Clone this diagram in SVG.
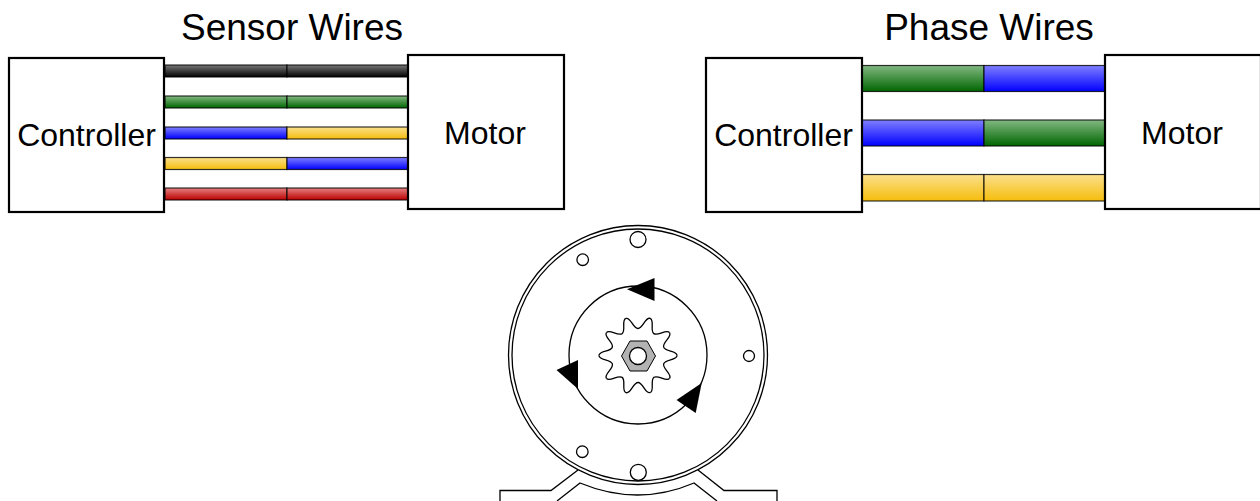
<svg xmlns="http://www.w3.org/2000/svg" width="1260" height="501" viewBox="0 0 1260 501">
<style>
text{font-family:"Liberation Sans",Arial,sans-serif;fill:#000;text-anchor:middle}
.t{font-size:37px}.l{font-size:32px}
.box{fill:#fff;stroke:#000;stroke-width:2.2}
.w{stroke:#000;stroke-width:1.2;stroke-opacity:.8}
.s{fill:none;stroke:#000;stroke-width:1.3}
.c{fill:#fff;stroke:#000;stroke-width:1.3}
.a{fill:#000;stroke:none}
</style>
<defs>
<linearGradient id="k" x1="0" y1="0" x2="0" y2="1"><stop offset="0" stop-color="#777"/><stop offset="1" stop-color="#000"/></linearGradient>
<linearGradient id="g" x1="0" y1="0" x2="0" y2="1"><stop offset="0" stop-color="#82b882"/><stop offset="1" stop-color="#006600"/></linearGradient>
<linearGradient id="b" x1="0" y1="0" x2="0" y2="1"><stop offset="0" stop-color="#7f7fff"/><stop offset="1" stop-color="#0000ff"/></linearGradient>
<linearGradient id="y" x1="0" y1="0" x2="0" y2="1"><stop offset="0" stop-color="#fbe08c"/><stop offset="1" stop-color="#f5bd0c"/></linearGradient>
<linearGradient id="r" x1="0" y1="0" x2="0" y2="1"><stop offset="0" stop-color="#e58080"/><stop offset="1" stop-color="#bb0000"/></linearGradient>
<path id="tooth" class="s" d="M39 0C39 5 27.200 3.550 25.700 8.300C24.150 13.050 34.540 18.850 31.600 22.900"/>
</defs>
<text class="t" x="292" y="40">Sensor Wires</text>
<text class="t" x="989" y="40">Phase Wires</text>
<g id="connectors">
<rect class="w" x="165" y="65" width="122" height="12" fill="url(#k)"/><rect class="w" x="287" y="65" width="121" height="12" fill="url(#k)"/>
<rect class="w" x="165" y="96" width="122" height="12" fill="url(#g)"/><rect class="w" x="287" y="96" width="121" height="12" fill="url(#g)"/>
<rect class="w" x="165" y="127" width="122" height="12" fill="url(#b)"/><rect class="w" x="287" y="127" width="121" height="12" fill="url(#y)"/>
<rect class="w" x="165" y="157.500" width="122" height="12" fill="url(#y)"/><rect class="w" x="287" y="157.500" width="121" height="12" fill="url(#b)"/>
<rect class="w" x="165" y="188" width="122" height="12" fill="url(#r)"/><rect class="w" x="287" y="188" width="121" height="12" fill="url(#r)"/>
<rect class="w" x="862" y="65.500" width="122" height="26" fill="url(#g)"/><rect class="w" x="984" y="65.500" width="121" height="26" fill="url(#b)"/>
<rect class="w" x="862" y="120" width="122" height="26" fill="url(#b)"/><rect class="w" x="984" y="120" width="121" height="26" fill="url(#g)"/>
<rect class="w" x="862" y="174.500" width="122" height="26.500" fill="url(#y)"/><rect class="w" x="984" y="174.500" width="121" height="26.500" fill="url(#y)"/>
</g>
<g id="sensor-controller"><rect class="box" x="9" y="58" width="155" height="154"/><text class="l" x="86.500" y="146">Controller</text></g>
<g id="sensor-motor"><rect class="box" x="408" y="55" width="156" height="154"/><text class="l" x="485" y="144">Motor</text></g>
<g id="phase-controller"><rect class="box" x="706" y="58" width="156" height="154"/><text class="l" x="783.500" y="146">Controller</text></g>
<g id="phase-motor"><rect class="box" x="1105" y="55" width="156" height="154"/><text class="l" x="1182" y="144">Motor</text></g>
<g id="motor">
<path class="s" d="M500 501V490.500H551L578 470M698 470L724 490.500H777V501"/>
<path class="s" d="M557 501L580 483Q638 507 694 483L717 501"/>
<circle class="c" cx="638" cy="355" r="129.500"/>
<circle class="c" cx="638" cy="355" r="126"/>
<circle class="c" cx="638" cy="239.500" r="8"/>
<circle class="c" cx="582.700" cy="259.700" r="5.800"/>
<circle class="c" cx="749" cy="356" r="5.500"/>
<circle class="c" cx="582.300" cy="451.700" r="5.800"/>
<circle class="c" cx="638.300" cy="472.300" r="8"/>
<circle class="s" cx="638" cy="355" r="69"/>
<path class="a" d="M654.500 278V301L627 289.300Z"/>
<path class="a" d="M578 360L556.500 370L578 389Z"/>
<path class="a" d="M701.700 383L676.500 400L695.700 413Z"/>
<g transform="translate(638 355.500)">
<use href="#tooth"/>
<use href="#tooth" transform="rotate(36)"/>
<use href="#tooth" transform="rotate(72)"/>
<use href="#tooth" transform="rotate(108)"/>
<use href="#tooth" transform="rotate(144)"/>
<use href="#tooth" transform="rotate(180)"/>
<use href="#tooth" transform="rotate(216)"/>
<use href="#tooth" transform="rotate(252)"/>
<use href="#tooth" transform="rotate(288)"/>
<use href="#tooth" transform="rotate(324)"/>
</g>
<path d="M621.500 356L630 341H647L655.500 356L647 371H630Z" fill="#b3b3b3" stroke="#000" stroke-width="1"/>
<circle class="c" cx="638" cy="356" r="8.500"/>
</g>
</svg>
